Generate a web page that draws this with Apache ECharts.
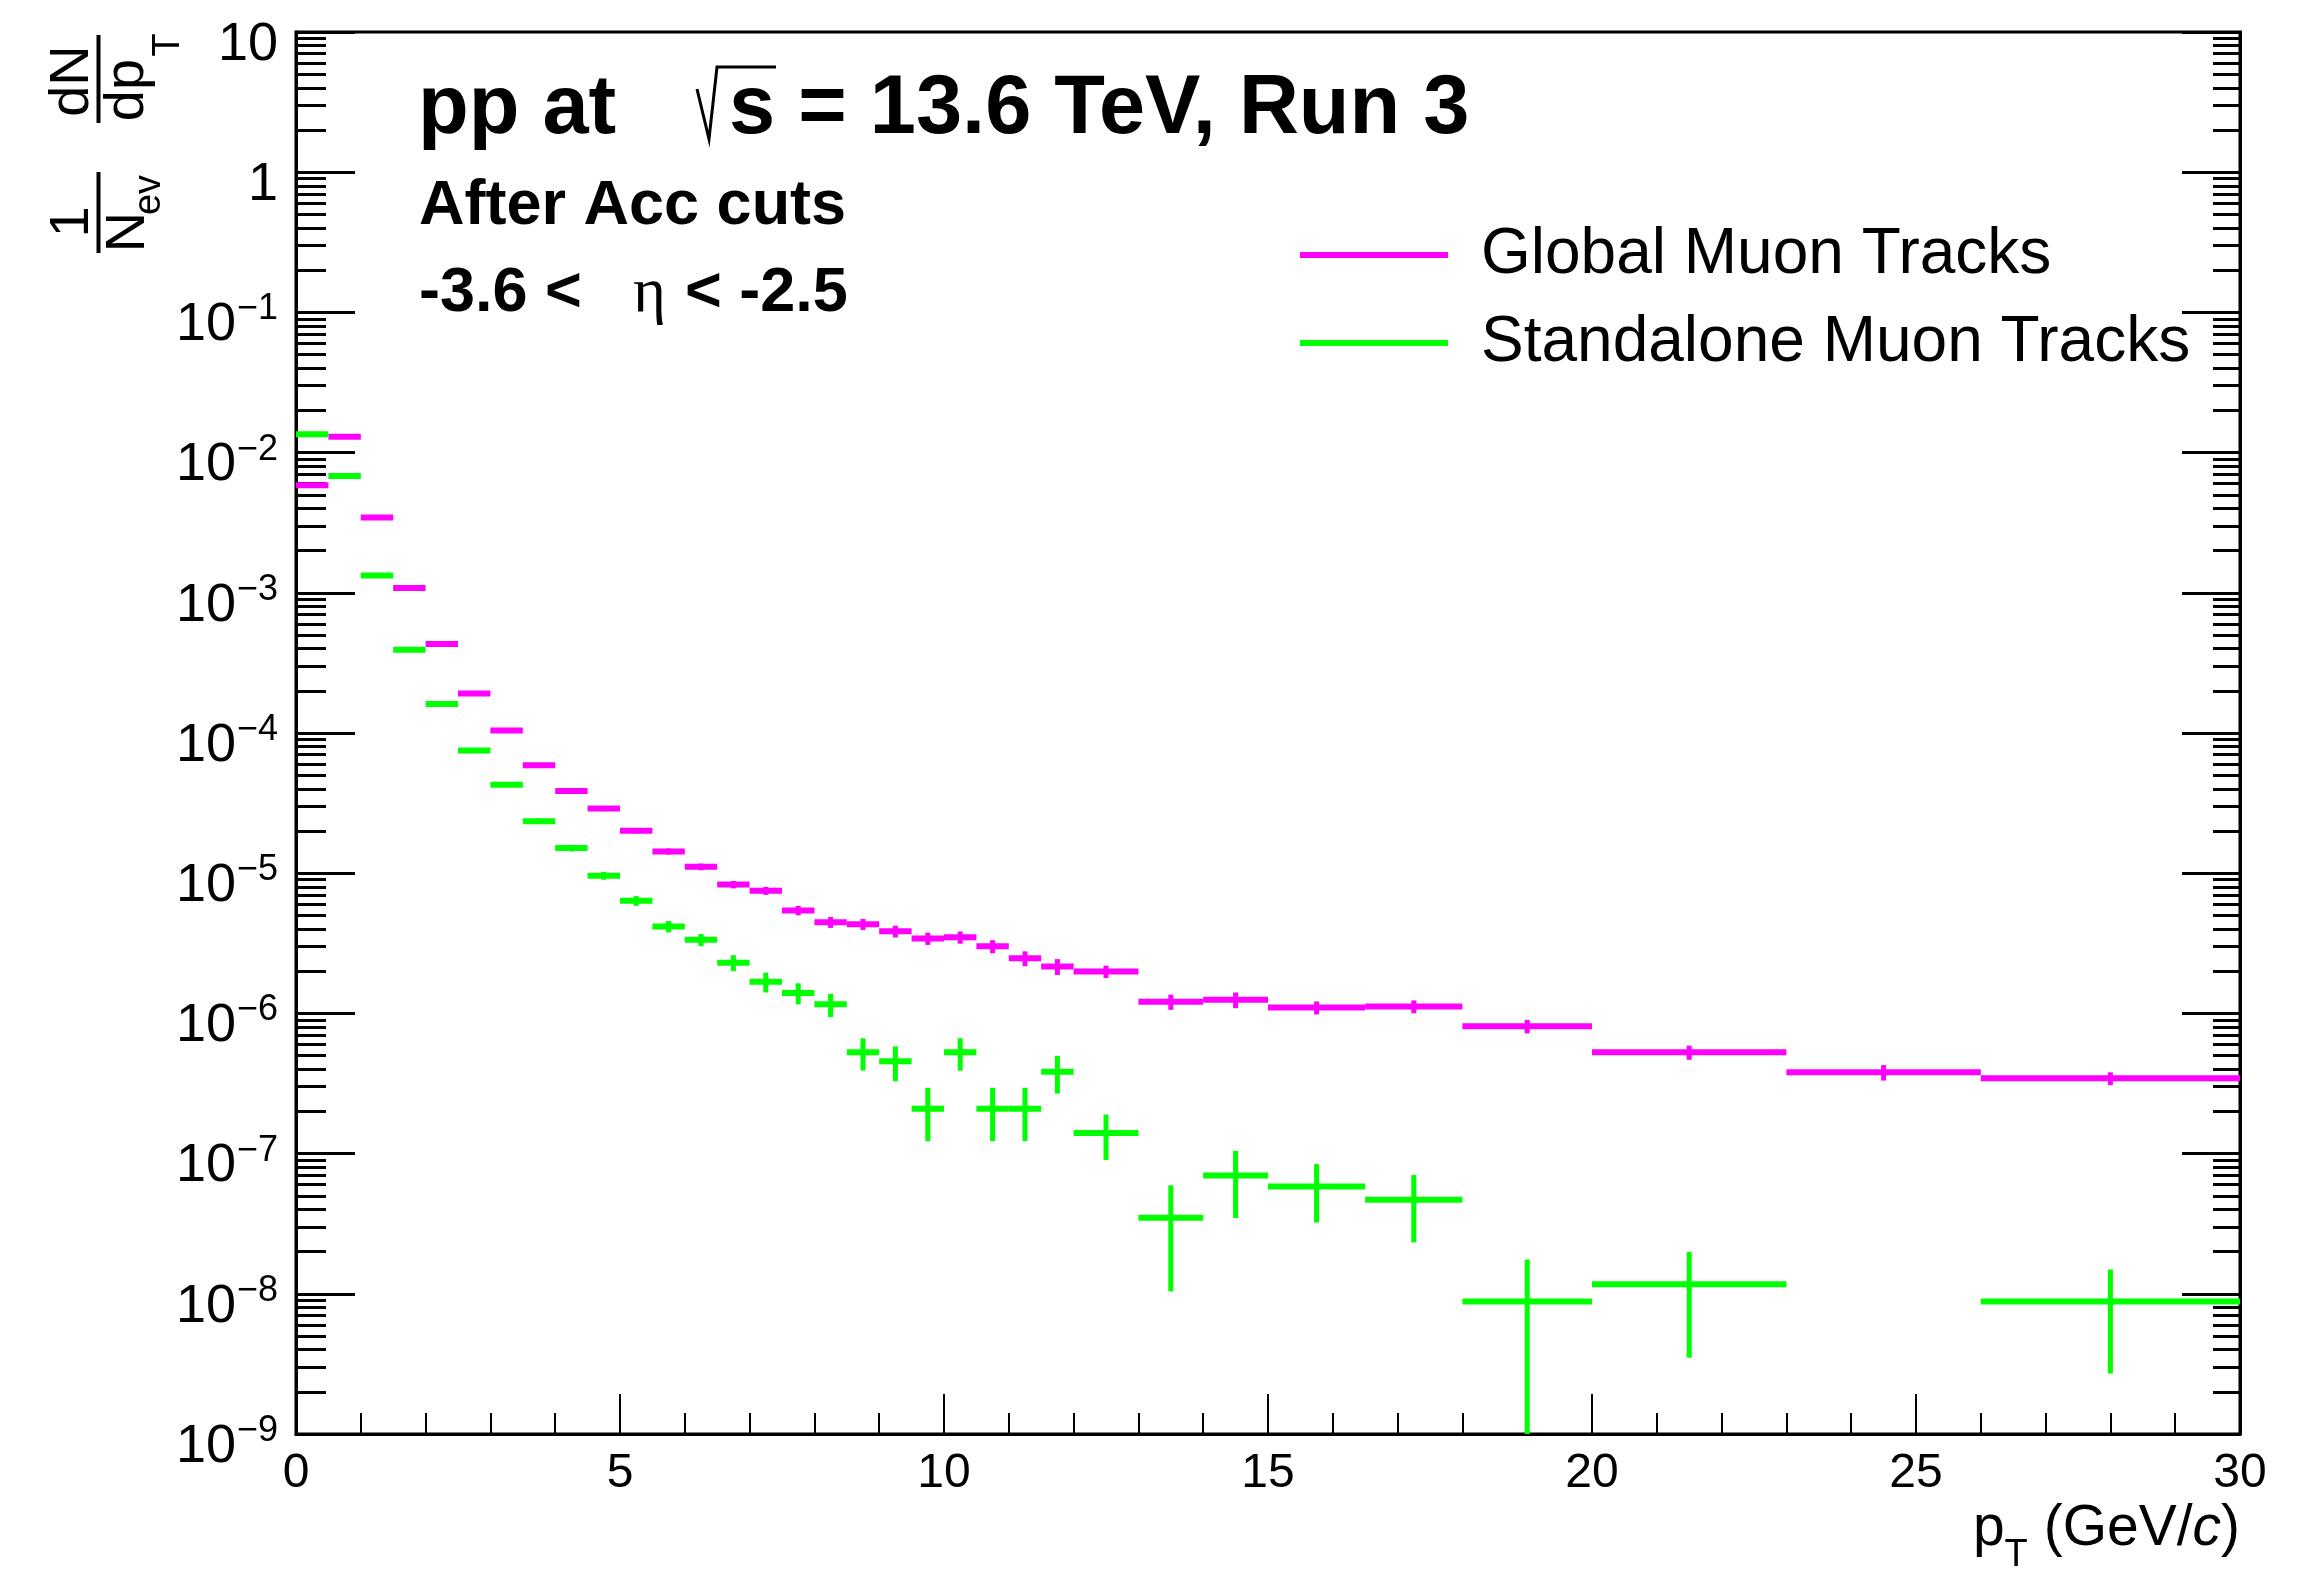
<!DOCTYPE html>
<html>
<head>
<meta charset="utf-8">
<script src="https://cdn.jsdelivr.net/npm/echarts@6/dist/echarts.min.js"></script>
<style>html,body{margin:0;padding:0;background:#fff}#c{width:2306px;height:1573px}</style>
</head>
<body>
<div id="c"></div>
<script>
// ---- data ----
const binEdges = [0,0.5,1,1.5,2,2.5,3,3.5,4,4.5,5,5.5,6,6.5,7,7.5,8,8.5,9,9.5,10,10.5,11,11.5,12,13,14,15,16.5,18,20,23,26,30];
const globalValues = [5.86e-3,1.30e-2,3.44e-3,1.08e-3,4.31e-4,1.91e-4,1.04e-4,5.89e-5,3.86e-5,2.89e-5,2.01e-5,1.43e-5,1.11e-5,8.3e-6,7.5e-6,5.43e-6,4.47e-6,4.33e-6,3.85e-6,3.42e-6,3.49e-6,3.01e-6,2.47e-6,2.16e-6,1.99e-6,1.21e-6,1.25e-6,1.10e-6,1.12e-6,8.1e-7,5.28e-7,3.80e-7,3.44e-7];
const globalErrors = [3e-5,6.5e-5,3.4e-5,1.1e-5,6.5e-6,3.8e-6,2.6e-6,1.8e-6,1.35e-6,1.16e-6,9e-7,7.2e-7,6.1e-7,5.1e-7,4.9e-7,4.2e-7,4.0e-7,3.9e-7,3.7e-7,3.4e-7,3.5e-7,3.2e-7,3.0e-7,2.8e-7,2.0e-7,1.5e-7,1.6e-7,1.17e-7,1.18e-7,8.9e-8,6.1e-8,4.8e-8,3.6e-8];
const standaloneValues = [1.35e-2,6.8e-3,1.33e-3,3.92e-4,1.61e-4,7.5e-5,4.27e-5,2.35e-5,1.51e-5,9.6e-6,6.36e-6,4.17e-6,3.35e-6,2.30e-6,1.68e-6,1.40e-6,1.16e-6,5.28e-7,4.55e-7,2.09e-7,5.28e-7,2.09e-7,2.09e-7,3.83e-7,1.40e-7,3.49e-8,6.97e-8,5.82e-8,4.68e-8,8.8e-9,1.17e-8,null,8.8e-9];
const standaloneErrors = [5e-5,3.4e-5,1.3e-5,5.9e-6,3.2e-6,2.3e-6,1.5e-6,1.06e-6,8.3e-7,6.2e-7,5.1e-7,3.9e-7,3.35e-7,3.0e-7,2.7e-7,2.4e-7,2.2e-7,1.37e-7,1.27e-7,8.6e-8,1.37e-7,8.6e-8,8.6e-8,1.15e-7,5.0e-8,2.45e-8,3.5e-8,2.6e-8,2.35e-8,8.8e-9,8.2e-9,null,6.1e-9];
const seriesNames = ['Global Muon Tracks','Standalone Muon Tracks'];
const seriesColors = ['#ff00ff','#00ff00'];
const xTicks = {min:0, max:30, interval:5};
const yMajorTicks = [1e-9,1e-8,1e-7,1e-6,1e-5,1e-4,1e-3,1e-2,1e-1,1,10];
const yMinorMultipliers = [2,3,4,5,6,7,8,9];
const Y_MIN = 1e-9, Y_MAX = 10;

// ---- build ----
const yMinorTicks = [];
for (let i = 0; i < yMajorTicks.length - 1; i++) {
  yMinorMultipliers.forEach(m => yMinorTicks.push(+(m * yMajorTicks[i]).toPrecision(3)));
}
function buildData(vals, errs) {
  const out = [];
  vals.forEach((v, i) => { if (v != null) out.push([binEdges[i], binEdges[i+1], v, errs[i]]); });
  return out;
}
function renderHist(color) {
  return function (params, api) {
    const lo = api.value(0), hi = api.value(1), y = api.value(2), e = api.value(3);
    const p1 = api.coord([lo, y]), p2 = api.coord([hi, y]);
    const xc = (lo + hi) / 2;
    const top = api.coord([xc, Math.min(y + e, Y_MAX)]);
    const bot = api.coord([xc, Math.max(y - e, Y_MIN)]);
    return {
      type: 'group',
      children: [
        {type: 'line', shape: {x1: p1[0], y1: p1[1], x2: p2[0], y2: p2[1]}, style: {stroke: color, lineWidth: 6, lineCap: 'butt'}},
        {type: 'line', shape: {x1: top[0], y1: top[1], x2: bot[0], y2: bot[1]}, style: {stroke: color, lineWidth: 5, lineCap: 'butt'}}
      ]
    };
  };
}
const FONT = 'Liberation Sans, Arial, Helvetica, sans-serif';
function yLabel(v) {
  const e = Math.round(Math.log10(v));
  if (e === 0) return '{b|1}';
  if (e === 1) return '{b|10}';
  return '{b|10}{s|' + (e < 0 ? '\u2212' : '') + Math.abs(e) + '}';
}
const yRich = {
  b: {fontSize: 54, fontFamily: FONT, color: '#000', lineHeight: 56, padding: [14,0,0,0], verticalAlign: 'top'},
  s: {fontSize: 36, fontFamily: FONT, color: '#000', lineHeight: 36, padding: [7,0,0,1], verticalAlign: 'top'}
};
function logAxis(pos, ticks, len, showLine, showLabel) {
  return {
    type: 'log', logBase: 10, min: Y_MIN, max: Y_MAX, position: pos, gridIndex: 0,
    axisLine: {show: showLine, onZero: false, lineStyle: {color: '#000', width: 3}},
    axisTick: {show: true, inside: true, length: len, customValues: ticks, lineStyle: {color: '#000', width: 3}},
    axisLabel: showLabel ? {show: true, customValues: yMajorTicks, formatter: yLabel, rich: yRich, margin: 18, color: '#000'} : {show: false},
    splitLine: {show: false}, minorTick: {show: false}
  };
}
function txt(x, y, text, font, extra) {
  return Object.assign({type: 'text', x: x, y: y, style: {text: text, font: font, fill: '#000', align: 'left', verticalAlign: 'middle', textAlign: 'left', textVerticalAlign: 'middle'}}, extra || {});
}
function rtxt(x, y, text, font) {
  return {type: 'text', x: x, y: y, rotation: Math.PI / 2, style: {text: text, font: font, fill: '#000', align: 'center', verticalAlign: 'middle', textAlign: 'center', textVerticalAlign: 'middle'}};
}

const chart = echarts.init(document.getElementById('c'), null, {renderer: 'canvas'});
const option = {
  backgroundColor: '#fff',
  animation: false,
  grid: {left: 296, top: 32, width: 1944, height: 1402, show: true, borderColor: '#000', borderWidth: 3, backgroundColor: 'transparent'},
  legend: {
    orient: 'vertical', left: 1300, top: 220, padding: 0, itemWidth: 148, itemHeight: 6, itemGap: 18,
    icon: 'rect', selectedMode: false,
    textStyle: {fontSize: 64, fontFamily: FONT, color: '#000', lineHeight: 70, padding: [0,0,0,28]},
    data: seriesNames
  },
  xAxis: {
    type: 'value', min: xTicks.min, max: xTicks.max, interval: xTicks.interval,
    axisLine: {show: true, onZero: false, lineStyle: {color: '#000', width: 3}},
    axisTick: {show: true, inside: true, length: 40, lineStyle: {color: '#000', width: 2}},
    minorTick: {show: true, splitNumber: 5, length: 21, lineStyle: {color: '#000', width: 2}},
    axisLabel: {fontSize: 48, fontFamily: FONT, color: '#000', margin: 16},
    splitLine: {show: false}
  },
  yAxis: [
    logAxis('left', yMajorTicks, 59, true, true),
    logAxis('left', yMinorTicks, 30, false, false),
    logAxis('right', yMajorTicks, 58, true, false),
    logAxis('right', yMinorTicks, 27, false, false)
  ],
  series: [
    {name: seriesNames[0], type: 'custom', renderItem: renderHist(seriesColors[0]), itemStyle: {color: seriesColors[0]},
     encode: {x: [0,1], y: [2]}, data: buildData(globalValues, globalErrors), z: 3},
    {name: seriesNames[1], type: 'custom', renderItem: renderHist(seriesColors[1]), itemStyle: {color: seriesColors[1]},
     encode: {x: [0,1], y: [2]}, data: buildData(standaloneValues, standaloneErrors), z: 3}
  ],
  graphic: [
    txt(418, 110, 'pp at', 'bold 83px ' + FONT),
    {type: 'polyline', shape: {points: [[697,89],[709,139],[717,67],[776,67]]}, style: {stroke: '#000', lineWidth: 3, fill: null}},
    txt(729, 110, 's = 13.6 TeV, Run 3', 'bold 83px ' + FONT),
    txt(419, 207, 'After Acc cuts', 'bold 63px ' + FONT),
    txt(419, 294, '-3.6 <', 'bold 63px ' + FONT),
    txt(633, 294, '\u03b7', '63px Liberation Serif, Times New Roman, serif'),
    txt(685, 294, '< -2.5', 'bold 63px ' + FONT),
    // y-axis title (rotated)
    rtxt(73, 81, 'dN', '56px ' + FONT),
    {type: 'line', shape: {x1: 98.5, y1: 35, x2: 98.5, y2: 123}, style: {stroke: '#000', lineWidth: 4}},
    rtxt(128, 90, 'dp', '56px ' + FONT),
    rtxt(169, 45, 'T', '38px ' + FONT),
    rtxt(72.5, 222, '1', '56px ' + FONT),
    {type: 'line', shape: {x1: 98.5, y1: 172, x2: 98.5, y2: 253}, style: {stroke: '#000', lineWidth: 4}},
    rtxt(129, 232, 'N', '56px ' + FONT),
    rtxt(150, 195, 'ev', '38px ' + FONT),
    // x-axis title
    {type: 'text', x: 2240, y: 1501, style: {
      text: '{a|p}{s|T}{a| (GeV/}{i|c}{a|)}', align: 'right', verticalAlign: 'top', textAlign: 'right', textVerticalAlign: 'top', fill: '#000',
      rich: {
        a: {fontSize: 57, fontFamily: FONT, lineHeight: 60, verticalAlign: 'top', fill: '#000', color: '#000'},
        i: {fontSize: 57, fontFamily: FONT, fontStyle: 'italic', lineHeight: 60, verticalAlign: 'top', fill: '#000', color: '#000'},
        s: {fontSize: 38, fontFamily: FONT, lineHeight: 38, padding: [36,0,0,0], verticalAlign: 'top', fill: '#000', color: '#000'}
      }
    }}
  ]
};
chart.setOption(option);
</script>
</body>
</html>
